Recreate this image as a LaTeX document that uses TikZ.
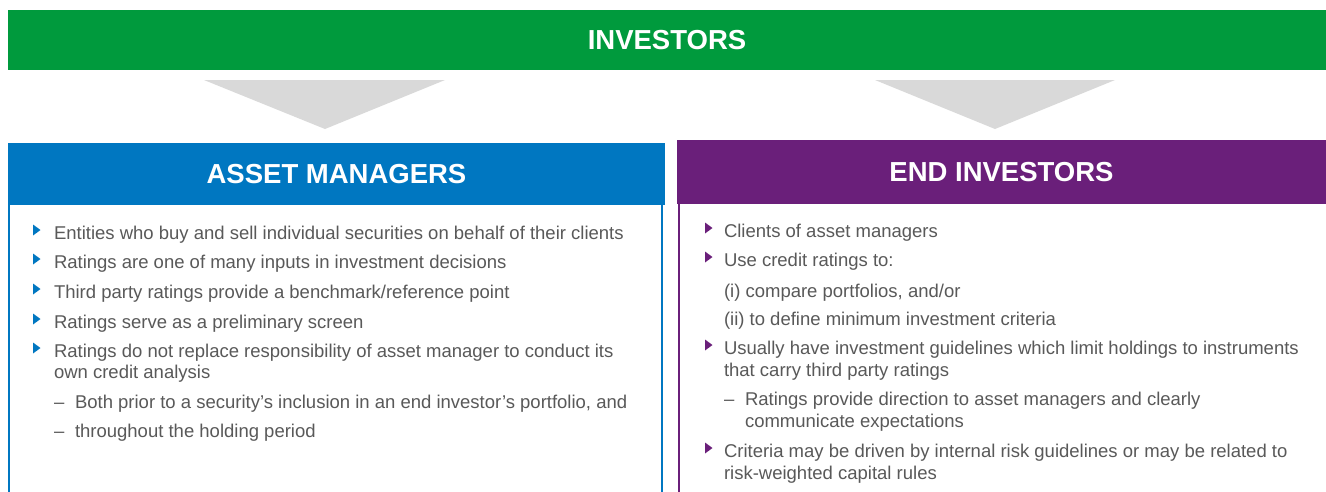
\documentclass[tikz,border=0pt]{standalone}
\usepackage{fontspec}
\setmainfont{Liberation Sans}
\definecolor{invgreen}{HTML}{009A3D}
\definecolor{amblue}{HTML}{0077C1}
\definecolor{eipurple}{HTML}{6A1F7A}
\definecolor{arrowgray}{HTML}{D9D9D9}
\definecolor{bodytext}{HTML}{595959}
\newcommand\bultri[3]{\fill[#3] (#1,#2-14.5) -- (#1+7.5,#2-9) -- (#1,#2-3.5) -- cycle;}
\begin{document}
\begin{tikzpicture}[x=1pt,y=-1pt,
  bar/.style={inner sep=0pt, outer sep=0pt, anchor=north west, text=white,
    font=\fontsize{27.5}{30}\selectfont\bfseries},
  txt/.style={inner sep=0pt, outer sep=0pt, anchor=base west, text=bodytext,
    font=\fontsize{18.5}{22}\selectfont}]
\useasboundingbox[fill=white] (0,0) rectangle (1326,491);
% top bar
\node[bar, fill=invgreen, minimum width=1318, minimum height=60] (inv) at (8,10) {INVESTORS};
% arrows
\fill[arrowgray] (204,80) -- (445,80) -- (325,129) -- cycle;
\fill[arrowgray] (875,80) -- (1115,80) -- (995,129) -- cycle;
% left box
\draw[amblue, line width=2pt] (9,205) -- (9,495);
\draw[amblue, line width=2pt] (662,205) -- (662,495);
\node[bar, fill=amblue, minimum width=657, minimum height=62] (am) at (8,143) {ASSET MANAGERS};
% right box
\draw[eipurple, line width=2pt] (679,204) -- (679,495);
\node[bar, fill=eipurple, minimum width=649, minimum height=64] (ei) at (677,140) {END INVESTORS};
% left text
\bultri{33}{239}{amblue}
\node[txt] (a1) at (54,239) {Entities who buy and sell individual securities on behalf of their clients};
\bultri{33}{268}{amblue}
\node[txt] (a2) at (54,268) {Ratings are one of many inputs in investment decisions};
\bultri{33}{298}{amblue}
\node[txt] (a3) at (54,298) {Third party ratings provide a benchmark/reference point};
\bultri{33}{328}{amblue}
\node[txt] (a4) at (54,328) {Ratings serve as a preliminary screen};
\bultri{33}{357}{amblue}
\node[txt] (a5) at (54,357) {Ratings do not replace responsibility of asset manager to conduct its};
\node[txt] (a5b) at (54,378) {own credit analysis};
\node[txt] (a6d) at (54,408) {–};
\node[txt] (a6) at (75,408) {Both prior to a security’s inclusion in an end investor’s portfolio, and};
\node[txt] (a7d) at (54,437) {–};
\node[txt] (a7) at (75,437) {throughout the holding period};
% right text
\bultri{705}{237}{eipurple}
\node[txt] (b1) at (724,237) {Clients of asset managers};
\bultri{705}{266}{eipurple}
\node[txt] (b2) at (724,266) {Use credit ratings to:};
\node[txt] (b3) at (724,297) {(i) compare portfolios, and/or};
\node[txt] (b4) at (724,325) {(ii) to define minimum investment criteria};
\bultri{705}{354}{eipurple}
\node[txt] (b5) at (724,354) {Usually have investment guidelines which limit holdings to instruments};
\node[txt] (b5b) at (724,376) {that carry third party ratings};
\node[txt] (b6d) at (724,405) {–};
\node[txt] (b6) at (745,405) {Ratings provide direction to asset managers and clearly};
\node[txt] (b6b) at (745,427) {communicate expectations};
\bultri{705}{457}{eipurple}
\node[txt] (b7) at (724,457) {Criteria may be driven by internal risk guidelines or may be related to};
\node[txt] (b7b) at (724,479) {risk-weighted capital rules};
\end{tikzpicture}
\end{document}
